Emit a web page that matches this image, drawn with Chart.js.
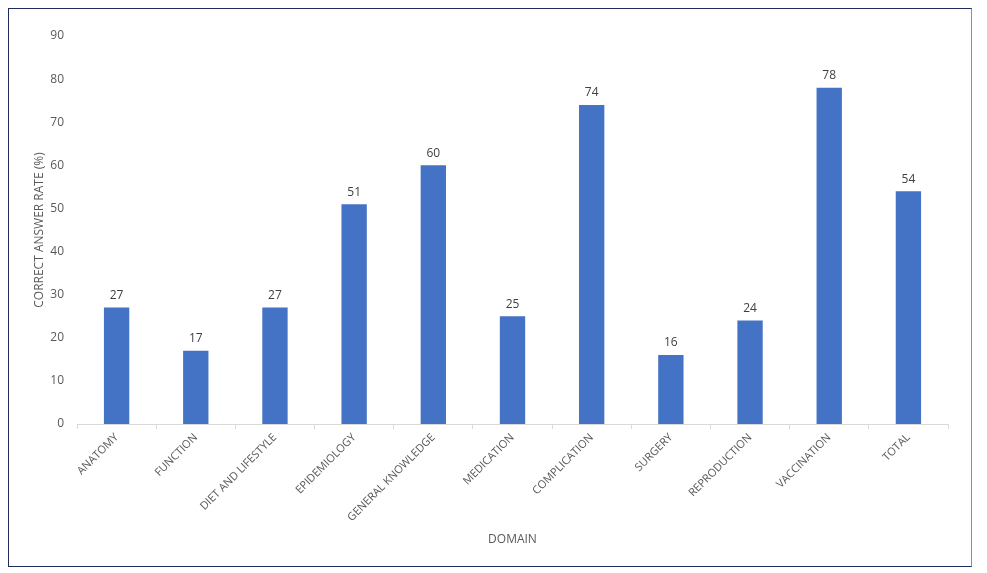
<!DOCTYPE html>
<html>
<head>
<meta charset="utf-8">
<script src="https://cdn.jsdelivr.net/npm/chart.js@4.4.0/dist/chart.umd.min.js"></script>
<style>
  html, body { margin: 0; padding: 0; background: #fff; }
  #wrap { position: relative; width: 987px; height: 573px; }
  #marco { position: absolute; left: 8px; top: 8px; width: 964px; height: 559px;
           border: 1px solid #1f2d5c; border-right-color: #8a8ca8; box-sizing: border-box; }
  canvas { position: absolute; left: 0; top: 0; }
</style>
</head>
<body>
<div id="wrap">
  <canvas id="grafico" width="987" height="573"></canvas>
  <div id="marco"></div>
</div>
<script>
// datos del grafico
const dominios = ["ANATOMY", "FUNCTION", "DIET AND LIFESTYLE", "EPIDEMIOLOGY", "GENERAL KNOWLEDGE",
  "MEDICATION", "COMPLICATION", "SURGERY", "REPRODUCTION", "VACCINATION", "TOTAL"];
const tasaCorrecta = [27, 17, 27, 51, 60, 25, 74, 16, 24, 78, 54];
const ticksY = [0, 10, 20, 30, 40, 50, 60, 70, 80, 90];

const fuente = "'Open Sans', 'Liberation Sans', sans-serif";

// etiquetas de valor sobre cada barra
const etiquetasValor = {
  id: 'etiquetasValor',
  afterDatasetsDraw(chart) {
    const ctx = chart.ctx;
    const meta = chart.getDatasetMeta(0);
    ctx.save();
    ctx.font = "12px " + fuente;
    ctx.fillStyle = "#404040";
    ctx.textAlign = "center";
    ctx.textBaseline = "bottom";
    meta.data.forEach((barra, i) => {
      ctx.fillText(tasaCorrecta[i], barra.x, barra.y - 6);
    });
    ctx.restore();
  }
};

new Chart(document.getElementById("grafico"), {
  type: "bar",
  data: {
    labels: dominios,
    datasets: [{
      data: tasaCorrecta,
      backgroundColor: "#4472C4",
      categoryPercentage: 1,
      barPercentage: 0.32
    }]
  },
  options: {
    responsive: false,
    animation: false,
    layout: { padding: { left: 30, top: 36, right: 39, bottom: 0 } },
    plugins: {
      legend: { display: false },
      tooltip: { enabled: false }
    },
    scales: {
      x: {
        offset: true,
        grid: { offset: true, drawOnChartArea: false, color: "#d9d9d9", tickLength: 5 },
        border: { color: "#d9d9d9" },
        ticks: {
          maxRotation: 45, minRotation: 45, autoSkip: false, padding: 2,
          color: "#595959", font: { family: fuente, size: 11 }
        },
        title: {
          display: true, text: "DOMAIN", color: "#595959",
          font: { family: fuente, size: 12 }, padding: { top: 0, bottom: 26 }
        },
        afterFit(s) { s.height = 149; }
      },
      y: {
        min: 0, max: 90,
        afterBuildTicks(s) { s.ticks = ticksY.map(v => ({ value: v })); },
        grid: { display: false, drawTicks: false, tickLength: 0 },
        border: { display: false },
        ticks: { padding: 13, color: "#595959", font: { family: fuente, size: 12 } },
        title: {
          display: true, text: "CORRECT ANSWER RATE (%)", color: "#595959",
          font: { family: fuente, size: 12 }, padding: { top: 2, bottom: 0 }
        },
        afterFit(s) { s.width = 47; }
      }
    }
  },
  plugins: [etiquetasValor]
});
</script>
</body>
</html>
